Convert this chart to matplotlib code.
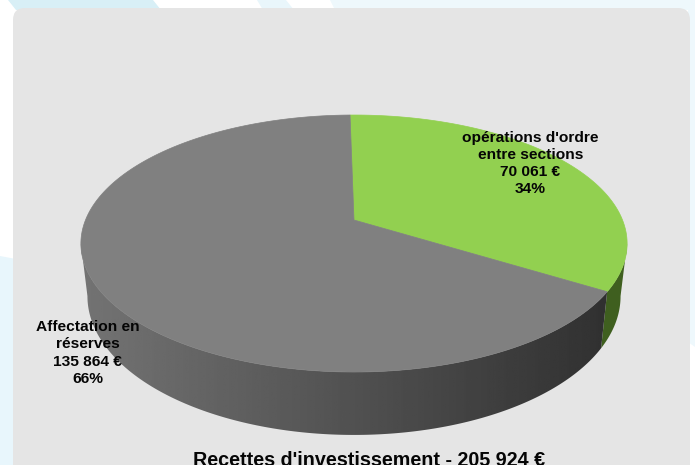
import numpy as np
import matplotlib
matplotlib.use('Agg')
import matplotlib.pyplot as plt
from matplotlib.patches import FancyBboxPatch, Polygon

plt.rcParams['font.family'] = ['Liberation Sans', 'DejaVu Sans']

# data
categories = ["opérations d'ordre\nentre sections", 'Affectation en\nréserves']
values = [70061, 135864]
value_labels = ['70 061 €', '135 864 €']
percent_labels = ['34%', '66%']
title = "Recettes d'investissement - 205 924 €"

top_colors = ['#92d050', '#808080']
green_wall = '#3f5f1f'

# perspective of the pie, in pixels
cx, apex_y = 354, 220
A, B, D = 268.5, 124.2, -0.183
low_scale, low_y, low_b = 0.976, 270.8, 134.1
start_deg = -1.0
# angles where the rim is widest, the wall outline runs straight down there
side_right, side_left = 100.5, 259.5


def top_rim(theta):
    u, v = np.sin(theta), -np.cos(theta)
    w = 1 + D * v
    return cx + A * u / w, apex_y + B * v / w


def low_rim(theta):
    u, v = np.sin(theta), -np.cos(theta)
    w = 1 + D * v
    return cx + low_scale * A * u / w, low_y + low_b * v / w


def wall_shape(a, b):
    th = np.linspace(a, b, 200)
    xt, yt = top_rim(th)
    xl, yl = low_rim(th[::-1])
    return np.column_stack([np.r_[xt, xl], np.r_[yt, yl]])


fig = plt.figure(figsize=(6.95, 4.65), dpi=100)
ax = fig.add_axes([0, 0, 1, 1])
ax.axis('off')

# page background stripes
ax.add_patch(Polygon([(8, 0), (153, 0), (161, 10), (16, 10)], fc='#d8eff6', ec='none'))
ax.add_patch(Polygon([(257, 0), (286, 0), (294, 10), (263, 10)], fc='#e9f6fb', ec='none'))
ax.add_patch(Polygon([(330, 0), (695, 0), (695, 10), (335, 10)], fc='#eef8fc', ec='none'))
ax.add_patch(Polygon([(0, 256), (16, 259), (16, 465), (0, 465)], fc='#e8f6fc', ec='none'))
ax.add_patch(Polygon([(688, 0), (695, 0), (695, 347), (688, 342)], fc='#eef8fc', ec='none'))

# rounded panel
ax.add_patch(FancyBboxPatch((21, 16), 661, 456, boxstyle='round,pad=8,rounding_size=12',
                            fc='#e5e5e5', ec='none'))

# slice angles from the values
fracs = np.array(values) / sum(values)
edges = np.radians(start_deg + 360 * np.concatenate([[0], np.cumsum(fracs)]))

# side walls: flat dark green, grey gets a left to right gradient
ax.add_patch(Polygon(wall_shape(np.radians(side_right), edges[1]), fc=green_wall, ec='none'))

grey_shape = Polygon(wall_shape(edges[1], np.radians(side_left)), fc='none', ec='none')
ax.add_patch(grey_shape)
grad = np.linspace(0.456, 0.189, 256).reshape(1, -1)
img = ax.imshow(grad, extent=[75, 612, 440, 200], cmap='gray', vmin=0, vmax=1,
                aspect='auto', zorder=1)
img.set_clip_path(grey_shape)

# top faces
for i in range(2):
    th = np.linspace(edges[i], edges[i + 1], 200)
    xs, ys = top_rim(th)
    pts = np.column_stack([np.r_[cx, xs], np.r_[apex_y, ys]])
    ax.add_patch(Polygon(pts, fc=top_colors[i], ec=top_colors[i], lw=0.5, zorder=2))

# labels
ax.text(530.5, 163.5, categories[0] + '\n' + value_labels[0] + '\n' + percent_labels[0],
        ha='center', va='center', fontsize=11.15, fontweight='bold', color='#050505',
        linespacing=1.28, zorder=3)
ax.text(87.5, 353, categories[1] + '\n' + value_labels[1] + '\n' + percent_labels[1],
        ha='center', va='center', fontsize=11.15, fontweight='bold', color='#050505',
        linespacing=1.28, zorder=3)
ax.text(369, 466, title, ha='center', va='baseline', fontsize=14.25, fontweight='bold',
        color='#050505', zorder=3)

ax.set_xlim(0, 695)
ax.set_ylim(465, 0)

fig.savefig('out.png', dpi=100)
